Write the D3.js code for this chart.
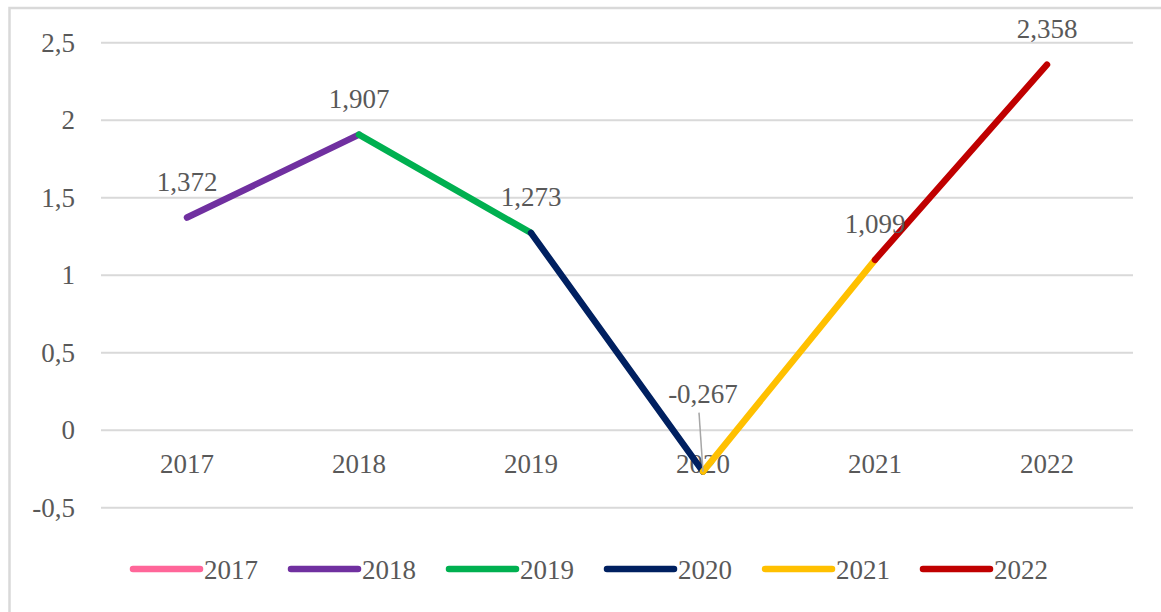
<!DOCTYPE html>
<html>
<head>
<meta charset="utf-8">
<script src="https://cdn.jsdelivr.net/npm/d3@7"></script>
<style>
  body { margin: 0; background: #fff; }
  svg text { font-family: "Liberation Serif", "Times New Roman", serif; fill: #595959; }
</style>
</head>
<body>
<div id="chart"></div>
<script>
const years = ["2017", "2018", "2019", "2020", "2021", "2022"];
const values = [1.372, 1.907, 1.273, -0.267, 1.099, 2.358];
const yearColors = ["#FF6699", "#7030A0", "#00B050", "#002060", "#FFC000", "#C00000"];
const yTicks = [-0.5, 0, 0.5, 1, 1.5, 2, 2.5];

const w = 1161,
    h = 612,
    fontSize = 27,
    lineW = 6.5;

const plot = {left: 101, right: 1133, top: 42.7, bottom: 507.7};

const locale = d3.formatLocale({decimal: ",", thousands: " ", grouping: [3], currency: ["", ""], minus: "-"});
const fmtLabel = locale.format(".3f"),
    fmtTick = locale.format(".1~f");

const x = d3.scaleBand().domain(years).range([plot.left, plot.right]);
const y = d3.scaleLinear().domain([-0.5, 2.5]).range([plot.bottom, plot.top]);
const cx = d => x(d) + x.bandwidth() / 2;

const svg = d3.select("#chart").append("svg")
    .attr("width", w)
    .attr("height", h);

// frame (right and bottom edges fall outside the picture)
svg.append("rect")
    .attr("x", 9.5).attr("y", 8)
    .attr("width", w + 10).attr("height", h + 10)
    .attr("fill", "none")
    .attr("stroke", "#d9d9d9")
    .attr("stroke-width", 2.5);

// grid
svg.append("g").selectAll("line")
    .data(yTicks)
    .enter().append("line")
    .attr("x1", plot.left).attr("x2", plot.right)
    .attr("y1", d => y(d)).attr("y2", d => y(d))
    .attr("stroke", "#d9d9d9")
    .attr("stroke-width", 2);

svg.append("g").selectAll("text")
    .data(yTicks)
    .enter().append("text")
    .attr("x", 75)
    .attr("y", d => y(d) + 9)
    .attr("text-anchor", "end")
    .style("font-size", fontSize + "px")
    .text(d => fmtTick(d));

// category labels sit just under the zero line
svg.append("g").selectAll("text")
    .data(years)
    .enter().append("text")
    .attr("x", d => cx(d))
    .attr("y", y(0) + 43)
    .attr("text-anchor", "middle")
    .style("font-size", fontSize + "px")
    .text(d => d);

// one segment per year, coming from the previous year
const segs = years.slice(1).map((yr, i) => ({
    x1: cx(years[i]), y1: y(values[i]),
    x2: cx(yr), y2: y(values[i + 1]),
    color: yearColors[i + 1]
}));

svg.append("g").selectAll("line")
    .data(segs)
    .enter().append("line")
    .attr("x1", d => d.x1).attr("y1", d => d.y1)
    .attr("x2", d => d.x2).attr("y2", d => d.y2)
    .attr("stroke", d => d.color)
    .attr("stroke-width", lineW)
    .attr("stroke-linecap", "round");

// data labels; the negative one was dragged up with a leader line
const labelShift = {"2020": -42};

years.forEach(function (yr, i) {
    const px = cx(yr), py = y(values[i]);
    const dy = labelShift[yr] || 0;
    if (dy) {
        svg.append("line")
            .attr("x1", px - 4).attr("y1", py - 36 + dy + 19)
            .attr("x2", px).attr("y2", py)
            .attr("stroke", "#a6a6a6")
            .attr("stroke-width", 1.5);
    }
    svg.append("text")
        .attr("x", px)
        .attr("y", py - 36 + dy + 9)
        .attr("text-anchor", "middle")
        .style("font-size", fontSize + "px")
        .text(fmtLabel(values[i]));
});

// legend
const legend = svg.append("g")
    .attr("transform", "translate(133,569)");

const item = legend.selectAll("g")
    .data(years)
    .enter().append("g")
    .attr("transform", (d, i) => "translate(" + (i * 158) + ",0)");

item.append("line")
    .attr("x1", 0).attr("x2", 67)
    .attr("stroke", (d, i) => yearColors[i])
    .attr("stroke-width", lineW)
    .attr("stroke-linecap", "round");

item.append("text")
    .attr("x", 71)
    .attr("y", 9.5)
    .style("font-size", fontSize + "px")
    .text(d => d);
</script>
</body>
</html>
